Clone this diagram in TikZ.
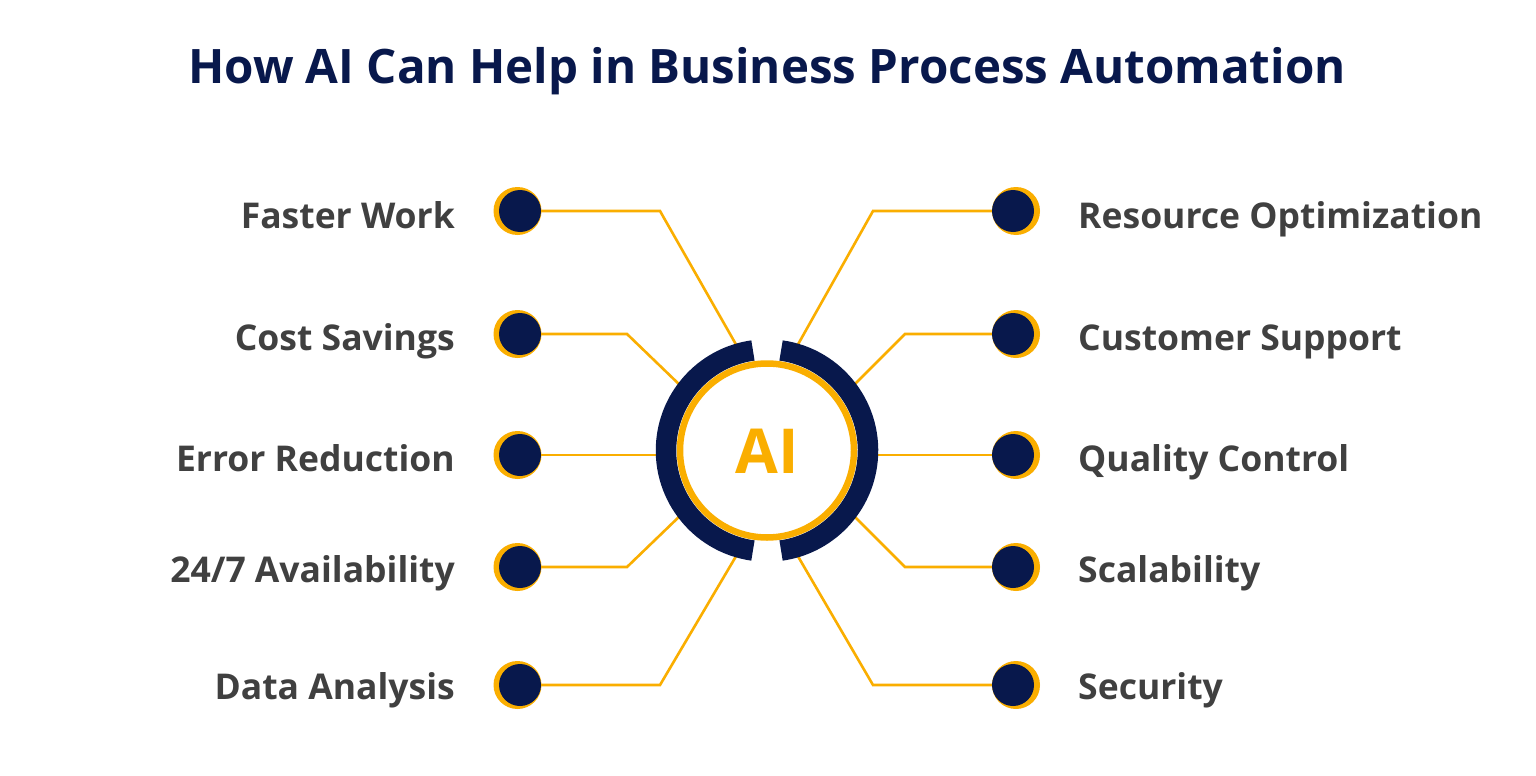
\documentclass[tikz,border=0pt]{standalone}
\usepackage{fontspec}
\setmainfont{Open Sans}
\definecolor{navy}{RGB}{8,24,76}
\definecolor{gold}{RGB}{250,174,0}
\definecolor{txt}{RGB}{64,64,64}
\begin{document}
\begin{tikzpicture}[x=1pt,y=-1pt,
  conn/.style={draw=gold, line width=2.6pt, line join=miter},
  lbl/.style={font=\fontsize{35.5}{40}\selectfont\bfseries, text=txt, inner sep=0pt},
  ldotO/.style={circle, fill=gold, minimum size=48pt, inner sep=0pt},
  ldotN/.style={circle, fill=navy, minimum size=42pt, inner sep=0pt}]
\useasboundingbox[fill=white] (0,0) rectangle (1536,776);
% title
\node[font=\fontsize{47.5}{52}\selectfont\bfseries, text=navy, inner sep=0pt, anchor=base] (title) at (767,83) {How AI Can Help in Business Process Automation};
% center
\coordinate (c) at (767,450.5);
% bends and ends
\coordinate (b1) at (660,211);   \coordinate (e1) at (740,351.5);
\coordinate (b2) at (627,334);   \coordinate (e2) at (684,389);
\coordinate (e3) at (665,455);
\coordinate (b4) at (627,567);   \coordinate (e4) at (684,512);
\coordinate (b5) at (660,685);   \coordinate (e5) at (740,549.5);
\coordinate (r1) at (873,211);   \coordinate (f1) at (794,351.5);
\coordinate (r2) at (905,334);   \coordinate (f2) at (850,389);
\coordinate (f3) at (869,455);
\coordinate (r4) at (905,567);   \coordinate (f4) at (850,512);
\coordinate (r5) at (873,685);   \coordinate (f5) at (794,549.5);
% dots
\foreach \i/\y in {1/211,2/334,3/455,4/567,5/685}{
  \node[ldotO] (lo\i) at (517.5,\y) {};
  \node[ldotN] (ln\i) at (520,\y) {};
  \node[ldotO] (ro\i) at (1016,\y) {};
  \node[ldotN] (rn\i) at (1013,\y) {};
}
% connectors
\draw[conn] (ln1.east) -- (b1) -- (e1);
\draw[conn] (ln2.east) -- (b2) -- (e2);
\draw[conn] (ln3.east) -- (e3);
\draw[conn] (ln4.east) -- (b4) -- (e4);
\draw[conn] (ln5.east) -- (b5) -- (e5);
\draw[conn] (rn1.west) -- (r1) -- (f1);
\draw[conn] (rn2.west) -- (r2) -- (f2);
\draw[conn] (rn3.west) -- (f3);
\draw[conn] (rn4.west) -- (r4) -- (f4);
\draw[conn] (rn5.west) -- (r5) -- (f5);
% ring
\fill[white] (c) circle[radius=92];
\draw[navy, line width=20.5pt] (c) ++(-82:101) arc[start angle=-82, end angle=82, radius=101];
\draw[navy, line width=20.5pt] (c) ++(98:101) arc[start angle=98, end angle=262, radius=101];
\draw[gold, line width=6.5pt] (c) circle[radius=87];
\node[font=\fontsize{62}{70}\selectfont\bfseries, text=gold, inner sep=0pt, anchor=base] (ai) at (767,473) {AI};
% labels
\node[lbl, anchor=base east] (t1) at (455,228) {Faster Work};
\node[lbl, anchor=base east] (t2) at (455,350) {Cost Savings};
\node[lbl, anchor=base east] (t3) at (455,471) {Error Reduction};
\node[lbl, anchor=base east] (t4) at (455,582) {24/7 Availability};
\node[lbl, anchor=base east] (t5) at (455,699) {Data Analysis};
\node[lbl, anchor=base west] (s1) at (1078,228) {Resource Optimization};
\node[lbl, anchor=base west] (s2) at (1078,350) {Customer Support};
\node[lbl, anchor=base west] (s3) at (1078,471) {Quality Control};
\node[lbl, anchor=base west] (s4) at (1078,582) {Scalability};
\node[lbl, anchor=base west] (s5) at (1078,699) {Security};
\end{tikzpicture}
\end{document}
